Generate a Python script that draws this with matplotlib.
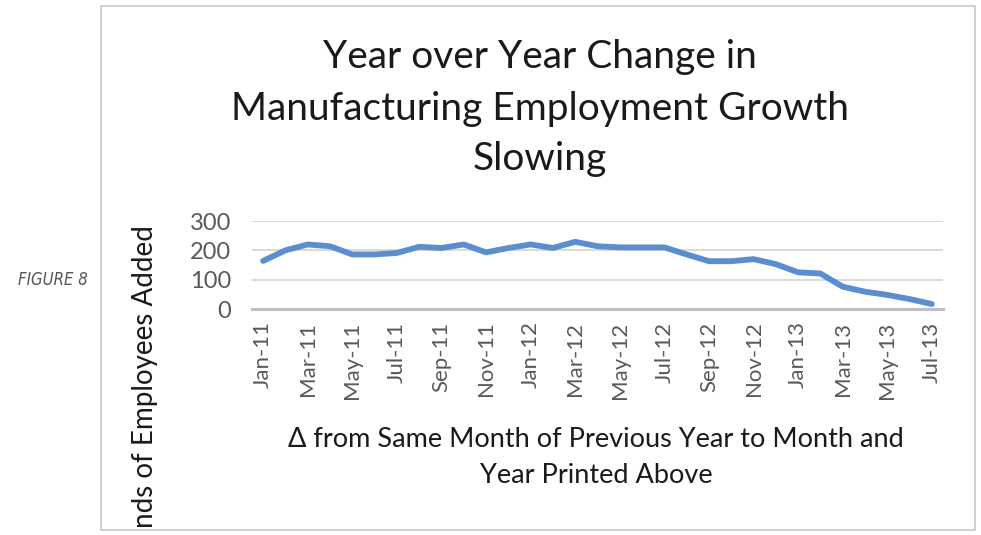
import matplotlib.pyplot as plt
from matplotlib.patches import Rectangle

months = ["Jan-11", "Feb-11", "Mar-11", "Apr-11", "May-11", "Jun-11", "Jul-11", "Aug-11",
          "Sep-11", "Oct-11", "Nov-11", "Dec-11", "Jan-12", "Feb-12", "Mar-12", "Apr-12",
          "May-12", "Jun-12", "Jul-12", "Aug-12", "Sep-12", "Oct-12", "Nov-12", "Dec-12",
          "Jan-13", "Feb-13", "Mar-13", "Apr-13", "May-13", "Jun-13", "Jul-13"]
added = [164, 200, 220, 214, 186, 186, 191, 212, 208, 220, 193, 208, 220, 208, 229, 214,
         210, 210, 210, 186, 163, 163, 170, 153, 125, 121, 76, 59, 48, 34, 17]
yticks = [0, 100, 200, 300]
title_lines = ["Year over Year Change in", "Manufacturing Employment Growth", "Slowing"]
xlabel_lines = ["\u0394 from Same Month of Previous Year to Month and", "Year Printed Above"]

plt.rcParams["font.family"] = ["Lato", "DejaVu Sans"]

W, H = 981, 535
fig = plt.figure(figsize=(W / 100, H / 100), dpi=100)

# outer frame of the chart
frame = Rectangle((101 / W, 5 / H), 874 / W, 524 / H, transform=fig.transFigure,
                  fill=False, edgecolor="#c8c8c8", linewidth=1.2)
fig.patches.append(frame)

fig.text(53 / W, 1 - 280 / H, "FIGURE 8", ha="center", va="center", fontsize=12,
         style="italic", fontstretch="condensed", color="#555555",
         family=["DejaVu Sans"])

ax = fig.add_axes([252 / W, 1 - 309 / H, 691 / W, 88 / H])
x = list(range(len(months)))
ax.plot(x, added, color="#5b8ed0", linewidth=4.2, solid_capstyle="round", zorder=3)

ax.set_xlim(-0.5, len(months) - 0.5)
ax.set_ylim(0, 300)
ax.set_yticks(yticks)
ax.set_yticklabels([str(v) for v in yticks], fontsize=17, color="#595959")
ax.set_xticks(x[::2])
ax.set_xticklabels(months[::2], rotation=90, fontsize=16, color="#595959")
ax.tick_params(axis="y", length=0, pad=15)
ax.tick_params(axis="x", length=0, pad=9)
ax.grid(axis="y", color="#d9d9d9", linewidth=1.4)
for s in ["top", "right", "left"]:
    ax.spines[s].set_visible(False)
ax.spines["bottom"].set_color("#bfbfbf")
ax.spines["bottom"].set_linewidth(2.2)

for line, yb in zip(title_lines, [68, 120, 170]):
    fig.text(540 / W, 1 - yb / H, line, ha="center", va="baseline", fontsize=28,
             color="#1a1a1a")

for line, yb in zip(xlabel_lines, [447, 483]):
    fig.text(596 / W, 1 - yb / H, line, ha="center", va="baseline", fontsize=19.5,
             color="#1a1a1a")

yl = fig.text(145 / W, 1 - 421 / H, "Thousands of Employees Added", rotation=90,
              ha="center", va="center", fontsize=20, color="#1a1a1a")
yl.set_clip_path(frame)

fig.savefig("out.png", dpi=100)
